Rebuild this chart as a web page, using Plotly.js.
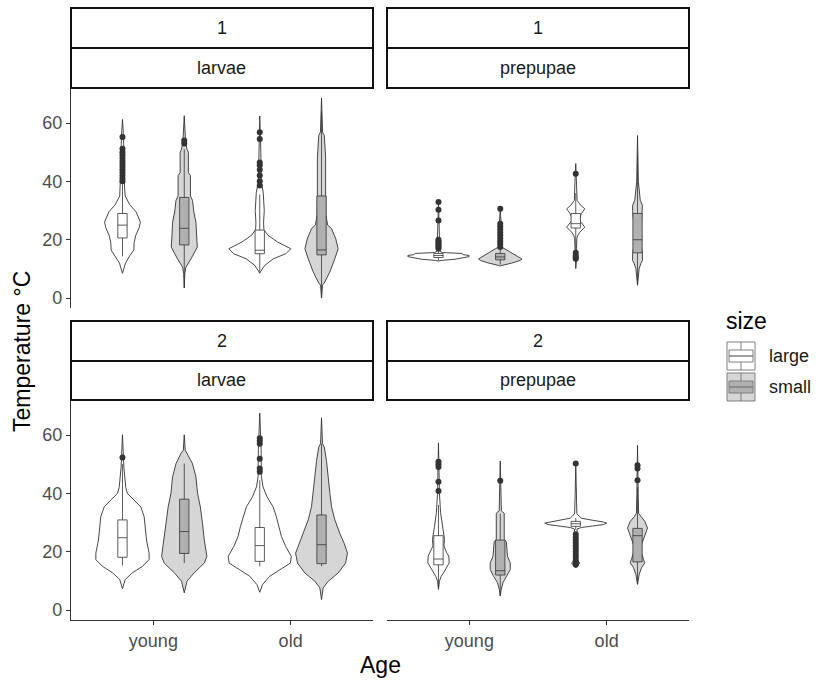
<!DOCTYPE html>
<html>
<head>
<meta charset="utf-8">
<script src="https://cdn.plot.ly/plotly-3.0.1.min.js"></script>
<style>html,body{margin:0;padding:0;background:#fff;}#chart{width:816px;height:682px;}</style>
</head>
<body>
<div id="chart"></div>
<script>
// ---------------- DATA ----------------
const ages = ["young", "old"];
const sizes = ["large", "small"];
const times = ["1", "2"];
const stages = ["larvae", "prepupae"];
const yTicks = [0, 20, 40, 60];

// violin outlines: temperature levels (t) and half-widths (w, in category units)
// box stats: [lowerfence, q1, median, q3, upperfence]; outliers: out
// --- time 1, larvae ---
const t_1_larvae_young_large = [8.5, 10, 12, 14.5, 16.5, 19, 21.5, 23.8, 26, 29.5, 32, 35, 38, 45, 55, 61.2];
const w_1_larvae_young_large = [0, 0.01, 0.022, 0.053, 0.083, 0.085, 0.097, 0.119, 0.131, 0.10, 0.053, 0.02, 0.015, 0.012, 0.008, 0];
const box_1_larvae_young_large = [14.3, 20.6, 25.0, 29.0, 39.5];
const out_1_larvae_young_large = [40, 41, 42, 43, 44, 45, 46, 47, 48, 49, 50, 51.2, 55.2];

const t_1_larvae_young_small = [3.5, 8.4, 10.6, 13.5, 17.5, 21, 26, 29.5, 33.5, 35, 42, 43, 50, 51, 53.5, 62.5];
const w_1_larvae_young_small = [0, 0.004, 0.012, 0.05, 0.095, 0.09, 0.085, 0.07, 0.06, 0.045, 0.045, 0.03, 0.03, 0.02, 0.01, 0];
const box_1_larvae_young_small = [3.5, 18.2, 23.9, 34.5, 51];
const out_1_larvae_young_small = [53, 54];

const t_1_larvae_old_large = [8.5, 9, 11.2, 13.5, 15.2, 16.9, 19.2, 21.5, 23.5, 26, 30, 33, 36.3, 40, 50, 62.4];
const w_1_larvae_old_large = [0, 0.005, 0.036, 0.10, 0.19, 0.226, 0.13, 0.06, 0.03, 0.028, 0.033, 0.03, 0.025, 0.01, 0.008, 0];
const box_1_larvae_old_large = [9, 15.2, 16.4, 23.3, 35.5];
const out_1_larvae_old_large = [38.6, 40, 42, 44, 45.5, 46.5, 54.5, 56.8];

const t_1_larvae_old_small = [0, 4.4, 5.5, 8.9, 13.5, 16.9, 20.3, 23.8, 25, 28.4, 35.2, 48.3, 55.8, 56.8, 68.6];
const w_1_larvae_old_small = [0, 0.007, 0.024, 0.06, 0.097, 0.121, 0.104, 0.073, 0.045, 0.032, 0.03, 0.03, 0.02, 0.008, 0];
const box_1_larvae_old_small = [0.5, 14.8, 16.5, 35.0, 64];
const out_1_larvae_old_small = [];

// --- time 1, prepupae ---
const t_1_prepupae_young_large = [12.7, 12.9, 13.3, 13.8, 14.2, 14.6, 14.9, 15.3, 15.6, 16, 20, 32.9];
const w_1_prepupae_young_large = [0, 0.02, 0.12, 0.17, 0.223, 0.223, 0.18, 0.17, 0.03, 0.01, 0.008, 0];
const box_1_prepupae_young_large = [12.9, 13.9, 14.6, 15.3, 16.5];
const out_1_prepupae_young_large = [17, 17.5, 18, 18.5, 19, 19.5, 20, 26.6, 30.3, 32.9];

const t_1_prepupae_young_small = [11.0, 11.2, 12.0, 12.9, 13.4, 14.5, 15.6, 16.9, 17.5, 25, 30.6];
const w_1_prepupae_young_small = [0, 0.012, 0.085, 0.145, 0.158, 0.12, 0.085, 0.036, 0.01, 0.007, 0];
const box_1_prepupae_young_small = [11.5, 13.1, 14.1, 15.3, 16.5];
const out_1_prepupae_young_small = [17.5, 18.5, 19.5, 20.5, 21.5, 22.5, 23.5, 24.5, 25.5, 30.6];

const t_1_prepupae_old_large = [10.1, 13, 17, 20.5, 21.5, 22.6, 24.3, 25.5, 26.5, 27.5, 28.9, 30.6, 31.8, 33.5, 40, 46.1];
const w_1_prepupae_old_large = [0, 0.006, 0.006, 0.008, 0.015, 0.03, 0.066, 0.045, 0.03, 0.03, 0.04, 0.066, 0.036, 0.01, 0.006, 0];
const box_1_prepupae_old_large = [16.5, 24.0, 25.5, 29.0, 36];
const out_1_prepupae_old_large = [13.5, 14, 14.5, 15.5, 42.6];

const t_1_prepupae_old_small = [4.4, 10.1, 11.8, 12.9, 15.2, 18.7, 20.4, 21.8, 24, 27, 30.1, 31.8, 33.5, 40, 55.7];
const w_1_prepupae_old_small = [0, 0.012, 0.024, 0.036, 0.036, 0.024, 0.012, 0.02, 0.027, 0.03, 0.036, 0.036, 0.02, 0.006, 0];
const box_1_prepupae_old_small = [4.5, 15.5, 20, 29, 49];
const out_1_prepupae_old_small = [];

// --- time 2, larvae ---
const t_2_larvae_young_large = [7.3, 8.8, 10.5, 12.8, 15, 17.3, 19.5, 24, 28.6, 32, 35.4, 37.7, 40, 42, 49, 60.1];
const w_2_larvae_young_large = [0, 0.007, 0.02, 0.073, 0.146, 0.194, 0.194, 0.175, 0.165, 0.158, 0.133, 0.085, 0.036, 0.024, 0.01, 0];
const box_2_larvae_young_large = [15.3, 18.1, 24.8, 30.9, 50];
const out_2_larvae_young_large = [52.3];

const t_2_larvae_young_small = [5.9, 9.9, 12.8, 16.1, 18.4, 24, 29.7, 35.4, 40, 45.7, 50.2, 53.7, 54.8, 60.1];
const w_2_larvae_young_small = [0, 0.02, 0.073, 0.146, 0.165, 0.146, 0.133, 0.117, 0.097, 0.085, 0.06, 0.024, 0.007, 0];
const box_2_larvae_young_small = [16.1, 19.4, 26.9, 38.0, 50.2];
const out_2_larvae_young_small = [];

const t_2_larvae_old_large = [6.1, 8.7, 11.6, 13.8, 16.1, 18.4, 21.8, 25.2, 28.6, 32, 35.4, 38.8, 42.2, 45.7, 55, 67.5];
const w_2_larvae_old_large = [0, 0.02, 0.073, 0.146, 0.223, 0.23, 0.189, 0.158, 0.141, 0.121, 0.097, 0.053, 0.024, 0.012, 0.01, 0];
const box_2_larvae_old_large = [15.0, 16.7, 22.1, 28.3, 44.5];
const out_2_larvae_old_large = [47.4, 48.5, 51.9, 57, 58, 58.9];

const t_2_larvae_old_small = [3.6, 7.6, 9.9, 12.7, 16.1, 19.5, 22.9, 26.3, 30.9, 35.4, 40, 45.7, 51.3, 55.9, 57, 65.9];
const w_2_larvae_old_small = [0, 0.012, 0.049, 0.121, 0.175, 0.189, 0.165, 0.133, 0.097, 0.073, 0.061, 0.049, 0.036, 0.02, 0.007, 0];
const box_2_larvae_old_small = [15.0, 15.9, 22.4, 32.6, 57];
const out_2_larvae_old_small = [];

// --- time 2, prepupae ---
const t_2_prepupae_young_large = [7.1, 9.9, 11.6, 13.3, 16.2, 18.5, 19.6, 22, 24.2, 28.6, 33.5, 40, 57.3];
const w_2_prepupae_young_large = [0, 0.007, 0.02, 0.044, 0.078, 0.075, 0.06, 0.04, 0.044, 0.029, 0.015, 0.007, 0];
const box_2_prepupae_young_large = [8, 15.5, 17.5, 25.5, 36];
const out_2_prepupae_young_large = [40.8, 44, 49, 50, 50.8];

const t_2_prepupae_young_small = [4.8, 7.1, 9.4, 11.6, 13.9, 16.2, 18.4, 23.5, 24.2, 33.2, 34, 51.1];
const w_2_prepupae_young_small = [0, 0.007, 0.02, 0.049, 0.073, 0.073, 0.053, 0.044, 0.029, 0.029, 0.008, 0];
const box_2_prepupae_young_small = [5, 12, 13.5, 24, 33];
const out_2_prepupae_young_small = [44.3];

const t_2_prepupae_old_large = [14.5, 15.5, 16.2, 17, 20, 27.8, 28.3, 28.8, 29.3, 29.8, 30.2, 30.8, 31.5, 33, 40, 50.2];
const w_2_prepupae_old_large = [0, 0.02, 0.03, 0.01, 0.006, 0.01, 0.04, 0.12, 0.2, 0.226, 0.2, 0.12, 0.04, 0.008, 0.004, 0];
const box_2_prepupae_old_large = [27.5, 28.7, 29.6, 30.4, 31.5];
const out_2_prepupae_old_large = [15.5, 16, 16.5, 17, 18, 19, 20, 21, 22, 23, 24, 25, 26, 50.2];

const t_2_prepupae_old_small = [8.8, 12.2, 14.5, 16.2, 17.3, 19.6, 22.4, 25.3, 28.1, 30.4, 32, 33.2, 40, 56.5];
const w_2_prepupae_old_small = [0, 0.012, 0.029, 0.053, 0.044, 0.029, 0.029, 0.053, 0.073, 0.053, 0.024, 0.008, 0.005, 0];
const box_2_prepupae_old_small = [9, 16.5, 25.5, 28, 42];
const out_2_prepupae_old_small = [44.5, 48.5, 49.6];

// registry built from the named arrays
const DATA = {
  "1_larvae_young_large": [t_1_larvae_young_large, w_1_larvae_young_large, box_1_larvae_young_large, out_1_larvae_young_large],
  "1_larvae_young_small": [t_1_larvae_young_small, w_1_larvae_young_small, box_1_larvae_young_small, out_1_larvae_young_small],
  "1_larvae_old_large": [t_1_larvae_old_large, w_1_larvae_old_large, box_1_larvae_old_large, out_1_larvae_old_large],
  "1_larvae_old_small": [t_1_larvae_old_small, w_1_larvae_old_small, box_1_larvae_old_small, out_1_larvae_old_small],
  "1_prepupae_young_large": [t_1_prepupae_young_large, w_1_prepupae_young_large, box_1_prepupae_young_large, out_1_prepupae_young_large],
  "1_prepupae_young_small": [t_1_prepupae_young_small, w_1_prepupae_young_small, box_1_prepupae_young_small, out_1_prepupae_young_small],
  "1_prepupae_old_large": [t_1_prepupae_old_large, w_1_prepupae_old_large, box_1_prepupae_old_large, out_1_prepupae_old_large],
  "1_prepupae_old_small": [t_1_prepupae_old_small, w_1_prepupae_old_small, box_1_prepupae_old_small, out_1_prepupae_old_small],
  "2_larvae_young_large": [t_2_larvae_young_large, w_2_larvae_young_large, box_2_larvae_young_large, out_2_larvae_young_large],
  "2_larvae_young_small": [t_2_larvae_young_small, w_2_larvae_young_small, box_2_larvae_young_small, out_2_larvae_young_small],
  "2_larvae_old_large": [t_2_larvae_old_large, w_2_larvae_old_large, box_2_larvae_old_large, out_2_larvae_old_large],
  "2_larvae_old_small": [t_2_larvae_old_small, w_2_larvae_old_small, box_2_larvae_old_small, out_2_larvae_old_small],
  "2_prepupae_young_large": [t_2_prepupae_young_large, w_2_prepupae_young_large, box_2_prepupae_young_large, out_2_prepupae_young_large],
  "2_prepupae_young_small": [t_2_prepupae_young_small, w_2_prepupae_young_small, box_2_prepupae_young_small, out_2_prepupae_young_small],
  "2_prepupae_old_large": [t_2_prepupae_old_large, w_2_prepupae_old_large, box_2_prepupae_old_large, out_2_prepupae_old_large],
  "2_prepupae_old_small": [t_2_prepupae_old_small, w_2_prepupae_old_small, box_2_prepupae_old_small, out_2_prepupae_old_small]
};

// ---------------- STYLE / LAYOUT ----------------
const W = 816, H = 682;
const FONT = "Liberation Sans, Arial, sans-serif";
const TXT = 18, TITLE = 23;
const px = v => v / W;
const py = v => 1 - v / H;
const dodge = {large: -0.225, small: 0.225};
const violinFill = {large: "#ffffff", small: "#d6d6d6"};
const boxFill = {large: "#ffffff", small: "#b0b0b0"};
const INK = "#333333";
const YRANGE = [-3.4, 72];

const colsPx = [[71, 373], [387, 689]];
const rowsPx = [[88, 308], [400, 620]];
const stripPx = [[8, 48, 88], [321, 361, 400]];

const traces = [];
times.forEach((tm, r) => {
  stages.forEach((st, c) => {
    const n = r * 2 + c + 1;
    const xa = n === 1 ? "x" : "x" + n;
    const ya = n === 1 ? "y" : "y" + n;
    const yo = "y" + (n + 4); // overlay axis so boxes/points sit above the violins
    ages.forEach((ag, ai) => {
      sizes.forEach(sz => {
        const [t, w, b, out] = DATA[[tm, st, ag, sz].join("_")];
        const center = ai + 1 + dodge[sz];
        const xs = [], ys = [];
        for (let i = 0; i < t.length; i++) { xs.push(center + w[i]); ys.push(t[i]); }
        for (let i = t.length - 1; i >= 0; i--) { xs.push(center - w[i]); ys.push(t[i]); }
        traces.push({type: "scatter", mode: "lines", x: xs, y: ys, xaxis: xa, yaxis: ya,
          fill: "toself", fillcolor: violinFill[sz], line: {color: INK, width: 0.9},
          showlegend: false, hoverinfo: "skip"});
        traces.push({type: "box", x: [center], lowerfence: [b[0]], q1: [b[1]], median: [b[2]],
          q3: [b[3]], upperfence: [b[4]], width: 0.068, xaxis: xa, yaxis: yo,
          fillcolor: boxFill[sz], line: {color: INK, width: 0.8}, whiskerwidth: 0,
          boxpoints: false, showlegend: false, hoverinfo: "skip"});
        if (out.length) {
          traces.push({type: "scatter", mode: "markers", x: out.map(() => center), y: out,
            xaxis: xa, yaxis: yo, marker: {color: INK, size: 6},
            showlegend: false, hoverinfo: "skip"});
        }
      });
    });
  });
});

const layout = {
  width: W, height: H, margin: {l: 0, r: 0, t: 0, b: 0},
  paper_bgcolor: "#fff", plot_bgcolor: "#fff",
  font: {family: FONT, color: "#1a1a1a"},
  showlegend: false,
  shapes: [], annotations: []
};

for (let r = 0; r < 2; r++) {
  for (let c = 0; c < 2; c++) {
    const n = r * 2 + c + 1;
    const sx = n === 1 ? "" : n;
    const isBottom = r === 1, isLeft = c === 0;
    layout["xaxis" + sx] = {
      domain: [px(colsPx[c][0]), px(colsPx[c][1])], range: [0.4, 2.6],
      anchor: n === 1 ? "y" : "y" + n, showgrid: false, zeroline: false,
      showline: isBottom, linecolor: INK, linewidth: 1.2,
      ticks: isBottom ? "outside" : "", ticklen: 4, tickcolor: INK, tickwidth: 1,
      tickvals: [1, 2], ticktext: ages, showticklabels: isBottom,
      tickfont: {family: FONT, size: TXT, color: "#4d4d4d"}, fixedrange: true
    };
    layout["yaxis" + sx] = {
      domain: [py(rowsPx[r][1]), py(rowsPx[r][0])], range: YRANGE,
      anchor: n === 1 ? "x" : "x" + n, showgrid: false, zeroline: false,
      showline: isLeft, linecolor: INK, linewidth: 1.2,
      ticks: isLeft ? "outside" : "", ticklen: 4, tickcolor: INK, tickwidth: 1,
      tickvals: yTicks, showticklabels: isLeft,
      tickfont: {family: FONT, size: TXT, color: "#4d4d4d"}, fixedrange: true
    };
    layout["yaxis" + (n + 4)] = {
      overlaying: n === 1 ? "y" : "y" + n, anchor: n === 1 ? "x" : "x" + n,
      domain: [py(rowsPx[r][1]), py(rowsPx[r][0])], range: YRANGE,
      visible: false, showgrid: false, zeroline: false, fixedrange: true
    };
  }
}

// facet strips
for (let r = 0; r < 2; r++) {
  for (let c = 0; c < 2; c++) {
    const [y0, y1, y2] = stripPx[r];
    const [x0, x1] = colsPx[c];
    [[y0, y1, times[r]], [y1, y2, stages[c]]].forEach(([a, b, label]) => {
      layout.shapes.push({type: "rect", xref: "paper", yref: "paper",
        x0: px(x0), x1: px(x1), y0: py(b), y1: py(a),
        line: {color: "#111", width: 2}, fillcolor: "#fff"});
      layout.annotations.push({xref: "paper", yref: "paper", x: px((x0 + x1) / 2), y: py((a + b) / 2),
        text: label, showarrow: false, xanchor: "center", yanchor: "middle",
        font: {family: FONT, size: TXT, color: "#1a1a1a"}});
    });
  }
}

// axis titles
layout.annotations.push({xref: "paper", yref: "paper", x: px(380), y: py(665), text: "Age",
  showarrow: false, xanchor: "center", yanchor: "middle", font: {family: FONT, size: TITLE, color: "#000"}});
layout.annotations.push({xref: "paper", yref: "paper", x: px(22), y: py(352), text: "Temperature °C",
  textangle: -90, showarrow: false, xanchor: "center", yanchor: "middle",
  font: {family: FONT, size: TITLE, color: "#000"}});

// legend (drawn)
layout.annotations.push({xref: "paper", yref: "paper", x: px(724), y: py(321), text: "size",
  showarrow: false, xanchor: "left", yanchor: "middle", font: {family: FONT, size: TITLE, color: "#000"}});
sizes.forEach((sz, i) => {
  const top = 342 + i * 31, bot = top + 28, l = 727, rr = 755, mid = (l + rr) / 2;
  layout.shapes.push({type: "rect", xref: "paper", yref: "paper", x0: px(l), x1: px(rr), y0: py(bot), y1: py(top),
    line: {color: "#7f7f7f", width: 1}, fillcolor: violinFill[sz]});
  layout.shapes.push({type: "line", xref: "paper", yref: "paper", x0: px(mid), x1: px(mid), y0: py(top), y1: py(bot),
    line: {color: "#7f7f7f", width: 1}});
  layout.shapes.push({type: "rect", xref: "paper", yref: "paper", x0: px(l + 2), x1: px(rr - 2), y0: py(top + 20), y1: py(top + 8),
    line: {color: "#7f7f7f", width: 1}, fillcolor: boxFill[sz]});
  layout.shapes.push({type: "line", xref: "paper", yref: "paper", x0: px(l + 2), x1: px(rr - 2), y0: py(top + 14), y1: py(top + 14),
    line: {color: "#7f7f7f", width: 1.5}});
  layout.annotations.push({xref: "paper", yref: "paper", x: px(767), y: py((top + bot) / 2), text: sz,
    showarrow: false, xanchor: "left", yanchor: "middle", font: {family: FONT, size: TXT, color: "#1a1a1a"}});
});

Plotly.newPlot("chart", traces, layout, {staticPlot: true, displayModeBar: false});
</script>
</body>
</html>
